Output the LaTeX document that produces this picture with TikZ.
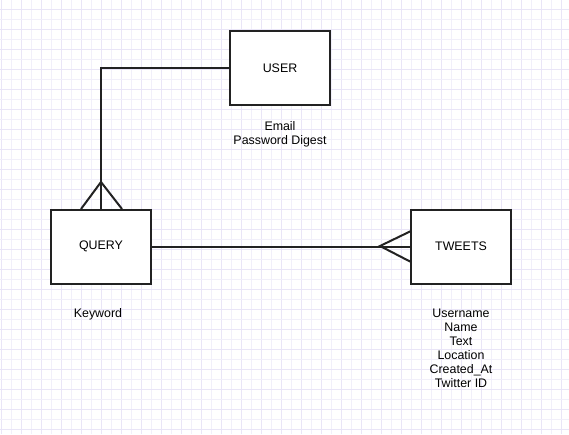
\documentclass[tikz,border=0pt]{standalone}
\usepackage{fontspec}
\setmainfont{Liberation Sans}
\definecolor{gridminor}{HTML}{F1EFFA}
\definecolor{gridmajor}{HTML}{E9E5F7}
\definecolor{edge}{HTML}{222222}
\begin{document}
\begin{tikzpicture}[x=1pt,y=-1pt,
  entity/.style={draw=edge,line width=2pt,fill=white,minimum width=100pt,minimum height=74pt,inner sep=0pt,font=\fontsize{12.4}{14}\selectfont},
  attrs/.style={align=center,inner sep=0pt,font=\fontsize{12.4}{14}\selectfont},
  rel/.style={draw=edge,line width=2pt}]
\useasboundingbox (0,0) rectangle (569,434);
\fill[white] (0,0) rectangle (569,434);
\foreach \i in {0,...,56} {
  \pgfmathtruncatemacro\m{mod(\i,2)}
  \ifnum\m=0 \def\gc{gridmajor}\else\def\gc{gridminor}\fi
  \draw[\gc,line width=0.7pt] (1+10*\i,0) -- (1+10*\i,434);
}
\foreach \j in {0,...,42} {
  \pgfmathtruncatemacro\m{mod(\j,2)}
  \ifnum\m=0 \def\gc{gridmajor}\else\def\gc{gridminor}\fi
  \draw[\gc,line width=0.7pt] (0,9+10*\j) -- (569,9+10*\j);
}
% relationships
\coordinate (corner) at (101,68);
\coordinate (qapex) at (101,182);
\coordinate (qfl) at (81,209);
\coordinate (qfr) at (122,209);
\coordinate (tapex) at (380,246);
\coordinate (tft) at (411,231);
\coordinate (tfb) at (411,262);
\node[entity] (user) at (280,68) {USER};
\node[entity] (query) at (101,246.5) {QUERY};
\node[entity] (tweets) at (461,246.5) {TWEETS};
\draw[rel] (user.west) -- (corner) -- (query.north);
\draw[rel] (qfl) -- (qapex) -- (qfr);
\draw[rel] (query.east) -- (tweets.west);
\draw[rel] (tft) -- (tapex) -- (tfb);
\node[attrs,anchor=north] (uattr) at (280,121) {Email\\Password Digest};
\node[attrs,anchor=north] (qattr) at (98,308.5) {Keyword};
\node[attrs,anchor=north] (tattr) at (461,308.5) {Username\\Name\\Text\\Location\\Created\_At\\Twitter ID};
\end{tikzpicture}
\end{document}
